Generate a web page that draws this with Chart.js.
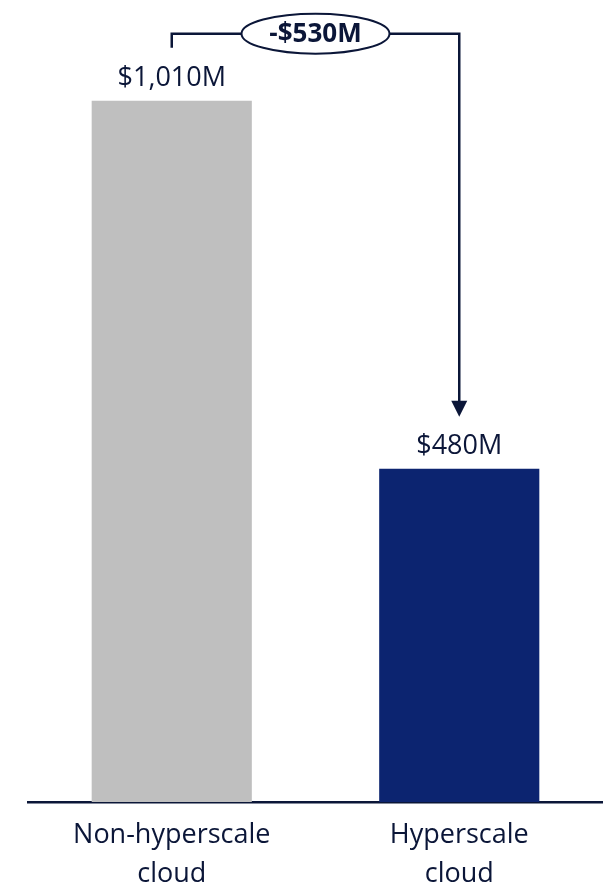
<!DOCTYPE html>
<html>
<head>
<meta charset="utf-8">
<script src="https://cdn.jsdelivr.net/npm/chart.js@4.4.1/dist/chart.umd.min.js"></script>
<style>
  html, body { margin: 0; padding: 0; background: #ffffff; }
  #wrap { width: 603px; height: 887px; position: relative; }
</style>
</head>
<body>
<div id="wrap"><canvas id="costChart"></canvas></div>
<script>
// --- datos ---
const categorias = [['Non-hyperscale', 'cloud'], ['Hyperscale', 'cloud']];
const valores = [1010, 480];          // millones USD
const colores = ['#bfbfbf', '#0c2470'];

const textColor = '#0b1638';
const fontFam = '"Open Sans", Lato, sans-serif';

const fmt = v => (v < 0 ? '-' : '') + '$' + Math.abs(v).toLocaleString('en-US') + 'M';

// etiquetas sobre las barras + conector con la diferencia
const anotaciones = {
  id: 'anotaciones',
  afterDatasetsDraw(chart) {
    const ctx = chart.ctx;
    const bars = chart.getDatasetMeta(0).data;
    ctx.save();
    ctx.fillStyle = textColor;
    ctx.font = '27px ' + fontFam;
    ctx.textAlign = 'center';
    ctx.textBaseline = 'alphabetic';
    bars.forEach((b, i) => {
      ctx.fillText(fmt(valores[i]), b.x, b.y - 15);
    });

    // conector
    const a = bars[0], b = bars[1];
    const topY = a.y - 67;
    ctx.strokeStyle = textColor;
    ctx.lineWidth = 2.5;
    ctx.beginPath();
    ctx.moveTo(a.x, a.y - 53);
    ctx.lineTo(a.x, topY);
    ctx.lineTo(b.x, topY);
    ctx.lineTo(b.x, b.y - 66);
    ctx.stroke();
    // punta de flecha
    const tip = b.y - 52;
    ctx.beginPath();
    ctx.moveTo(b.x, tip);
    ctx.lineTo(b.x - 8, tip - 16);
    ctx.lineTo(b.x + 8, tip - 16);
    ctx.closePath();
    ctx.fill();

    // elipse con la diferencia
    const cx = (a.x + b.x) / 2, cy = topY;
    ctx.beginPath();
    ctx.ellipse(cx, cy, 74, 20, 0, 0, Math.PI * 2);
    ctx.fillStyle = '#ffffff';
    ctx.fill();
    ctx.lineWidth = 2;
    ctx.stroke();
    ctx.fillStyle = textColor;
    ctx.font = 'bold 26px ' + fontFam;
    ctx.textBaseline = 'middle';
    ctx.fillText(fmt(valores[1] - valores[0]), cx, cy + 1);
    ctx.restore();
  }
};

new Chart(document.getElementById('costChart'), {
  type: 'bar',
  data: {
    labels: categorias,
    datasets: [{
      data: valores,
      backgroundColor: colores,
      barPercentage: 0.557,
      categoryPercentage: 1
    }]
  },
  options: {
    responsive: true,
    maintainAspectRatio: false,
    animation: false,
    layout: { padding: { left: 28, right: 0, top: 0, bottom: 0 } },
    plugins: { legend: { display: false }, tooltip: { enabled: false } },
    scales: {
      x: {
        grid: { display: false, drawTicks: false },
        border: { display: true, color: textColor, width: 2.5 },
        ticks: {
          color: textColor,
          font: { family: fontFam, size: 27, lineHeight: 1.45 },
          padding: 14,
          maxRotation: 0
        },
        afterFit: s => { s.height = 85; }
      },
      y: {
        display: false,
        min: 0,
        max: 1155
      }
    }
  },
  plugins: [anotaciones]
});
</script>
</body>
</html>
